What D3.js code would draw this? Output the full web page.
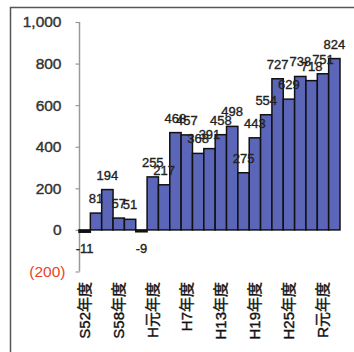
<!DOCTYPE html>
<html>
<head>
<meta charset="utf-8">
<script src="https://cdn.jsdelivr.net/npm/d3@7"></script>
<style>
  body { margin: 0; background: #fff; }
  svg { display: block; }
  text { font-family: "Liberation Sans", Arial, "Noto Sans CJK JP", sans-serif; }
</style>
</head>
<body>
<script>
// Data: one bar every two fiscal years
let years = ["S52年度", "S54年度", "S56年度", "S58年度", "S60年度", "S62年度",
    "H元年度", "H3年度", "H5年度", "H7年度", "H9年度", "H11年度", "H13年度",
    "H15年度", "H17年度", "H19年度", "H21年度", "H23年度", "H25年度", "H27年度",
    "H29年度", "R元年度", "R3年度"];
let values = [-11, 81, 194, 57, 51, -9, 255, 217, 468, 457, 368, 391, 458, 498,
    275, 443, 554, 727, 629, 738, 718, 751, 824];
let shownLabels = ["S52年度", "S58年度", "H元年度", "H7年度", "H13年度", "H19年度", "H25年度", "R元年度"];
let yTicks = [-200, 0, 200, 400, 600, 800, 1000];

let width = 354, height = 352;

let svg = d3.select("body")
    .append("svg")
    .attr("width", width)
    .attr("height", height);

// outer frame (left and top edges only are visible)
svg.append("path")
    .attr("d", "M10.5," + height + "V7.5H" + width)
    .attr("fill", "none")
    .attr("stroke", "#555")
    .attr("stroke-width", 1.5);

// scales
let x = d3.scaleBand()
    .domain(years)
    .range([79, 340])
    .padding(0);

let y = d3.scaleLinear()
    .domain([-200, 1000])
    .range([271.5, 22]);

// y axis
let yAxis = svg.append("g")
    .attr("transform", "translate(79.5,0)")
    .call(d3.axisLeft(y).tickValues(yTicks).tickSize(4).tickFormat(d => d < 0 ? "(" + d3.format(",")(-d) + ")" : d3.format(",")(d)));

yAxis.select(".domain")
    .attr("stroke", "#999")
    .attr("stroke-width", 1.5)
    .attr("d", "M0," + y(1000) + "V" + y(-200));

yAxis.selectAll(".tick line")
    .attr("stroke", "#999")
    .attr("stroke-width", 1.2);

yAxis.selectAll(".tick text")
    .attr("x", -18)
    .attr("font-size", 15.5)
    .attr("fill", d => d < 0 ? "#e8432c" : "#333")
    .attr("stroke", d => d < 0 ? "none" : "#333")
    .attr("stroke-width", 0.4)
    .attr("dx", d => d < 0 ? 4 : 0);

// bars
svg.append("g")
    .selectAll("rect")
    .data(values)
    .enter()
    .append("rect")
    .attr("x", (d, i) => x(years[i]))
    .attr("width", x.bandwidth())
    .attr("y", d => y(Math.max(d, 0)))
    .attr("height", d => Math.abs(y(d) - y(0)))
    .attr("fill", d => d < 0 ? "#111" : "#5c66b8")
    .attr("stroke", "#111")
    .attr("stroke-width", 1.5);

// value labels
svg.append("g")
    .selectAll("text")
    .data(values)
    .enter()
    .append("text")
    .attr("x", (d, i) => x(years[i]) + x.bandwidth() / 2)
    .attr("y", d => d < 0 ? y(0) + 23 : y(d) - 10)
    .attr("text-anchor", "middle")
    .attr("font-size", 13)
    .attr("fill", "#222")
    .attr("stroke", "#222")
    .attr("stroke-width", 0.35)
    .text(d => d);

// x category labels (vertical)
svg.append("g")
    .selectAll("text")
    .data(shownLabels)
    .enter()
    .append("text")
    .attr("transform", d => "translate(" + (x(d) + x.bandwidth() / 2) + ",282) rotate(-90)")
    .attr("dy", "0.36em")
    .attr("text-anchor", "end")
    .attr("font-size", 15)
    .attr("fill", "#111")
    .attr("stroke", "#111")
    .attr("stroke-width", 0.4)
    .text(d => d);
</script>
</body>
</html>
